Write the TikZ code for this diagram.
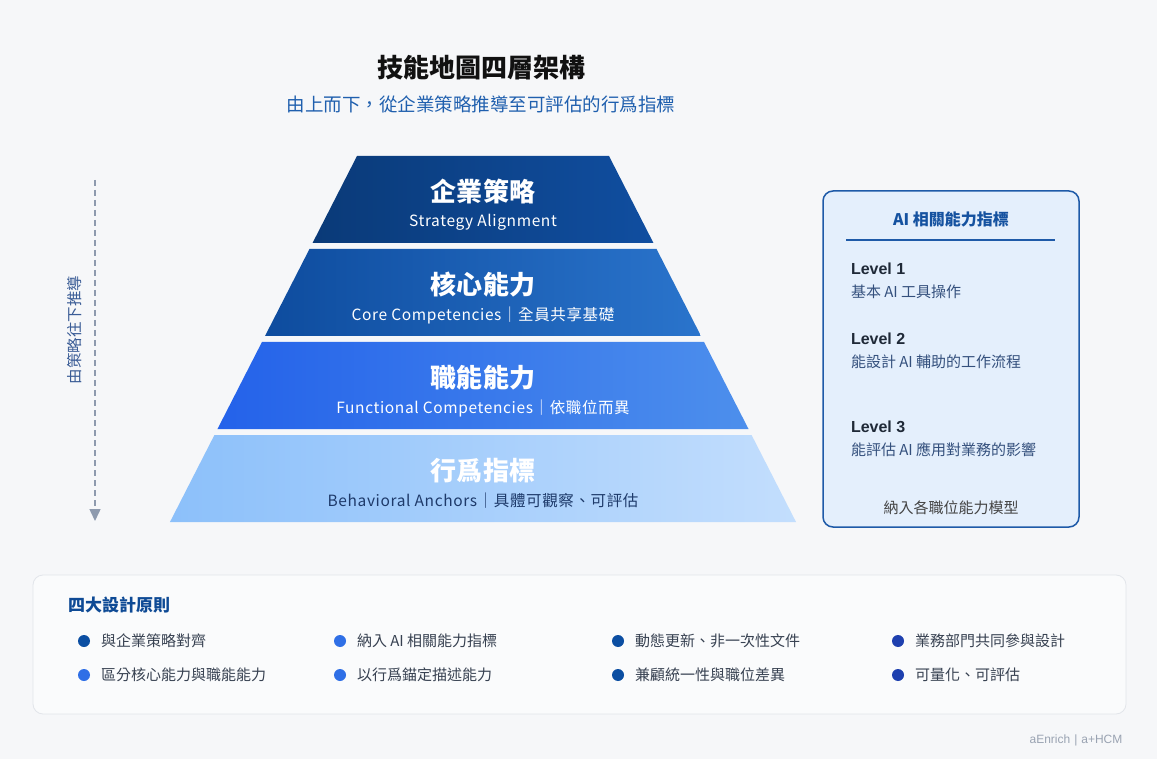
\documentclass[tikz,border=0pt]{standalone}
\usepackage{fontspec}
\setmainfont{Noto Sans CJK TC}
\newfontfamily\arialfont{Liberation Sans}
\usetikzlibrary{arrows.meta,positioning}

\definecolor{bgcol}{HTML}{F6F7F9}
\definecolor{titlecol}{HTML}{111111}
\definecolor{subcol}{HTML}{1F5FAE}
\definecolor{lay1l}{HTML}{0A3A78}
\definecolor{lay1r}{HTML}{104EA0}
\definecolor{lay2l}{HTML}{0E4C9E}
\definecolor{lay2r}{HTML}{2A74CC}
\definecolor{lay3l}{HTML}{2462EA}
\definecolor{lay3r}{HTML}{4D8FEC}
\definecolor{lay4l}{HTML}{8CC0FA}
\definecolor{lay4r}{HTML}{C3DEFD}
\definecolor{navytext}{HTML}{1E3A6A}
\definecolor{arrowcol}{HTML}{8E9AAE}
\definecolor{arrowtext}{HTML}{3A5C96}
\definecolor{aifill}{HTML}{E4EFFC}
\definecolor{aiborder}{HTML}{1E5AA8}
\definecolor{aititlecol}{HTML}{1552A0}
\definecolor{lvlcol}{HTML}{1F2937}
\definecolor{lvldesccol}{HTML}{34507D}
\definecolor{notecol}{HTML}{444444}
\definecolor{panelfill}{HTML}{FAFBFC}
\definecolor{panelborder}{HTML}{E2E5EA}
\definecolor{paneltitle}{HTML}{0E4A95}
\definecolor{itemcol}{HTML}{374151}
\definecolor{dotdark}{HTML}{0B4EA2}
\definecolor{dotmid}{HTML}{2F6FE6}
\definecolor{dotind}{HTML}{1E40AF}
\definecolor{footcol}{HTML}{9AA3B2}

\tikzset{
  every node/.style={inner sep=0pt, outer sep=0pt},
  laytitle/.style={font=\fontsize{26}{30}\selectfont\bfseries\addfontfeature{LetterSpace=2}},
  laysub/.style={font=\fontsize{15.5}{18}\selectfont\addfontfeature{LetterSpace=4}},
  aibox/.style={draw=aiborder, line width=1.5pt, fill=aifill,
    rounded corners=10pt, minimum width=256pt, minimum height=336pt},
  lvl/.style={anchor=west, text=lvlcol, font=\arialfont\fontsize{16}{19}\selectfont\bfseries},
  lvldesc/.style={anchor=west, text=lvldesccol, font=\fontsize{15}{18}\selectfont},
  panel/.style={draw=panelborder, fill=panelfill, line width=0.8pt,
    rounded corners=10pt, minimum width=1093pt, minimum height=139pt},
  item/.style={anchor=west, text=itemcol, font=\fontsize{15}{18}\selectfont},
  dot/.style={circle, minimum size=12pt}
}

\begin{document}
\begin{tikzpicture}[x=1pt, y=-1pt, >=Stealth]

  % Background.
  \fill[bgcol] (0,0) rectangle (1157,759);
  \useasboundingbox (0,0) rectangle (1157,759);

  % Heading.
  \node[text=titlecol, font=\fontsize{26}{30}\selectfont\bfseries] (title) at (481,68) {技能地圖四層架構};
  \node[text=subcol, font=\fontsize{18.5}{22}\selectfont] (subtitle) at (481,104)
    {由上而下，從企業策略推導至可評估的行爲指標};

  % Pyramid layers.
  \foreach \i/\lc/\rc/\tc/\sc/\name/\desc in {
      0/lay1l/lay1r/white/white/企業策略/Strategy Alignment,
      1/lay2l/lay2r/white/white/核心能力/Core Competencies｜全員共享基礎,
      2/lay3l/lay3r/white/white/職能能力/Functional Competencies｜依職位而異,
      3/lay4l/lay4r/white/navytext/行爲指標/Behavioral Anchors｜具體可觀察、可評估} {
    \pgfmathsetmacro{\yt}{156+93*\i}
    \pgfmathsetmacro{\yb}{\yt+87}
    \pgfmathsetmacro{\wt}{126+0.511*(\yt-156)}
    \pgfmathsetmacro{\wb}{126+0.511*(\yb-156)}
    \shade[left color=\lc, right color=\rc]
      (483-\wt,\yt) -- (483+\wt,\yt) -- (483+\wb,\yb) -- (483-\wb,\yb) -- cycle;
    \node[laytitle, text=\tc] (lay\i) at (483,192+93*\i) {\name};
    \node[laysub, text=\sc] (laysub\i) at (483,222+93*\i) {\desc};
  }

  % Top-down arrow.
  \coordinate (arrtop) at (95,180);
  \coordinate (arrbot) at (95,521);
  \draw[arrowcol, line width=1.5pt, dash pattern=on 6pt off 4pt,
    -{Triangle[width=11pt, length=12pt]}] (arrtop) -- (arrbot);
  \node[text=arrowtext, rotate=90, font=\fontsize{15.5}{18}\selectfont] (arrlab) at (75,330) {由策略往下推導};

  % AI indicator box.
  \node[aibox] (ai) at (951,359) {};
  \node[text=aititlecol, font=\fontsize{16}{19}\selectfont\bfseries] (aititle) at (951,219) {AI 相關能力指標};
  \draw[aiborder, line width=1.2pt] (846,240) -- (1055,240);
  \foreach \n/\y/\txt in {1/269/基本 AI 工具操作, 2/339/能設計 AI 輔助的工作流程, 3/427/能評估 AI 應用對業務的影響} {
    \node[lvl] (lv\n) at (851,\y) {Level \n};
    \node[lvldesc] (lvd\n) at (851,\y+23) {\txt};
  }
  \node[text=notecol, font=\fontsize{15}{18}\selectfont] (ainote) at (951,508) {納入各職位能力模型};

  % Design principles panel.
  \node[panel] (pan) at (579.5,644.5) {};
  \node[anchor=west, text=paneltitle, font=\fontsize{17}{20}\selectfont\bfseries] (pantitle) at (68,605) {四大設計原則};
  \foreach \c/\x/\ca/\cb/\ta/\tb in {
      1/84/dotdark/dotmid/與企業策略對齊/區分核心能力與職能能力,
      2/340/dotmid/dotmid/納入 AI 相關能力指標/以行爲錨定描述能力,
      3/618/dotdark/dotdark/動態更新、非一次性文件/兼顧統一性與職位差異,
      4/898/dotind/dotind/業務部門共同參與設計/可量化、可評估} {
    \node[dot, fill=\ca] (da\c) at (\x,641) {};
    \node[item] (ia\c) at (\x+17,641) {\ta};
    \node[dot, fill=\cb] (db\c) at (\x,675) {};
    \node[item] (ib\c) at (\x+17,675) {\tb};
  }

  % Footer.
  \node[text=footcol, font=\arialfont\fontsize{12}{14}\selectfont] (foot) at (1076,740) {aEnrich\,\,|\,\,a+HCM};

\end{tikzpicture}
\end{document}
